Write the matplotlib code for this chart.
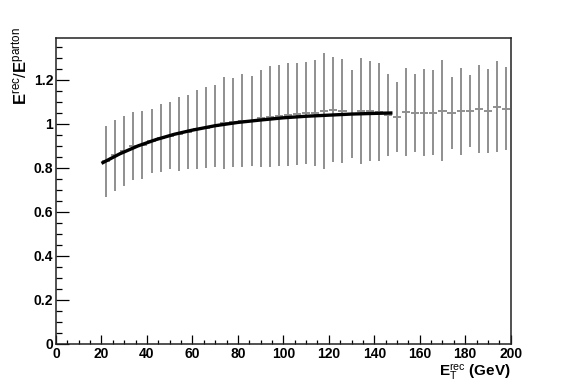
import numpy as np
import matplotlib
matplotlib.use("Agg")
import matplotlib.pyplot as plt
from matplotlib.ticker import MultipleLocator, FuncFormatter

# ---- data ----
et_centers = [22, 26, 30, 34, 38, 42, 46, 50, 54, 58, 62, 66, 70, 74, 78, 82,
              86, 90, 94, 98, 102, 106, 110, 114, 118, 122, 126, 130, 134, 138,
              142, 146, 150, 154, 158, 162, 166, 170, 174, 178, 182, 186, 190,
              194, 198]
ratio = [0.830, 0.857, 0.876, 0.900, 0.906, 0.922, 0.936, 0.947, 0.956, 0.965,
         0.976, 0.983, 0.991, 1.004, 1.007, 1.015, 1.014, 1.025, 1.033, 1.038,
         1.042, 1.047, 1.051, 1.051, 1.060, 1.065, 1.059, 1.046, 1.059, 1.059,
         1.053, 1.041, 1.032, 1.055, 1.049, 1.052, 1.052, 1.061, 1.050, 1.058,
         1.059, 1.069, 1.060, 1.079, 1.069]
ratio_err = [0.160, 0.160, 0.158, 0.155, 0.155, 0.146, 0.155, 0.153, 0.168,
             0.168, 0.179, 0.183, 0.188, 0.210, 0.201, 0.212, 0.204, 0.220,
             0.230, 0.229, 0.233, 0.232, 0.231, 0.240, 0.263, 0.238, 0.235,
             0.201, 0.241, 0.226, 0.223, 0.186, 0.159, 0.200, 0.178, 0.196,
             0.193, 0.230, 0.162, 0.197, 0.165, 0.201, 0.192, 0.206, 0.189]
bin_half_width = 1.8

# fitted curve
fit_x = [20, 28, 36, 44, 52, 60, 70, 80, 90, 100, 110, 120, 130, 140, 148]
fit_y = [0.821, 0.864, 0.900, 0.929, 0.953, 0.972, 0.992, 1.007, 1.018,
         1.028, 1.035, 1.040, 1.045, 1.048, 1.050]

xticks_major = [0, 20, 40, 60, 80, 100, 120, 140, 160, 180, 200]
yticks_major = [0, 0.2, 0.4, 0.6, 0.8, 1.0, 1.2]

plt.rcParams['mathtext.fontset'] = 'custom'
plt.rcParams['mathtext.rm'] = 'Liberation Sans'
plt.rcParams['mathtext.bf'] = 'Liberation Sans:bold'
plt.rcParams['mathtext.it'] = 'Liberation Sans:italic'
plt.rcParams['font.family'] = ['Liberation Sans', 'DejaVu Sans']

fig = plt.figure(figsize=(5.67, 3.84), dpi=100)
ax = fig.add_axes([0.0988, 0.1042, 0.8019, 0.7976])

ax.errorbar(et_centers, ratio, yerr=ratio_err,
            xerr=[bin_half_width] * len(et_centers),
            fmt='none', ecolor='#8f8f8f', elinewidth=1.4, capsize=0, zorder=2)
ax.plot(fit_x, fit_y, color='black', lw=2.4, solid_joinstyle='round',
        solid_capstyle='butt', zorder=3)

ax.set_xlim(0, 200)
ax.set_ylim(0, 1.392)
ax.set_xticks(xticks_major)
ax.set_yticks(yticks_major)
ax.xaxis.set_minor_locator(MultipleLocator(5))
ax.yaxis.set_minor_locator(MultipleLocator(0.05))
ax.yaxis.set_major_formatter(FuncFormatter(lambda v, p: '%g' % round(v, 2)))

for s in ax.spines.values():
    s.set_linewidth(1.1)
    s.set_color('#222222')

ax.tick_params(axis='x', which='major', direction='in', length=6.5, width=0.9,
               pad=2, labelsize=10, top=False)
ax.tick_params(axis='x', which='minor', direction='in', length=3.2, width=0.9,
               top=False)
ax.tick_params(axis='y', which='major', direction='in', length=9, width=0.9,
               pad=2, labelsize=10, right=False)
ax.tick_params(axis='y', which='minor', direction='in', length=4.5, width=0.9,
               right=False)
for lab in ax.get_xticklabels() + ax.get_yticklabels():
    lab.set_fontweight('bold')

fig.text(0.900, 0.004, r'$\mathbf{E}_{\mathrm{T}}^{\mathrm{rec}}$ (GeV)',
         ha='right', va='bottom', fontsize=11, fontweight='bold')
fig.text(0.036, 0.93, r'$\mathbf{E}^{\mathrm{rec}}/\mathbf{E}^{\mathrm{parton}}$',
         ha='center', va='top', rotation=90, fontsize=12, fontweight='bold')

fig.savefig('out.png', dpi=100)
